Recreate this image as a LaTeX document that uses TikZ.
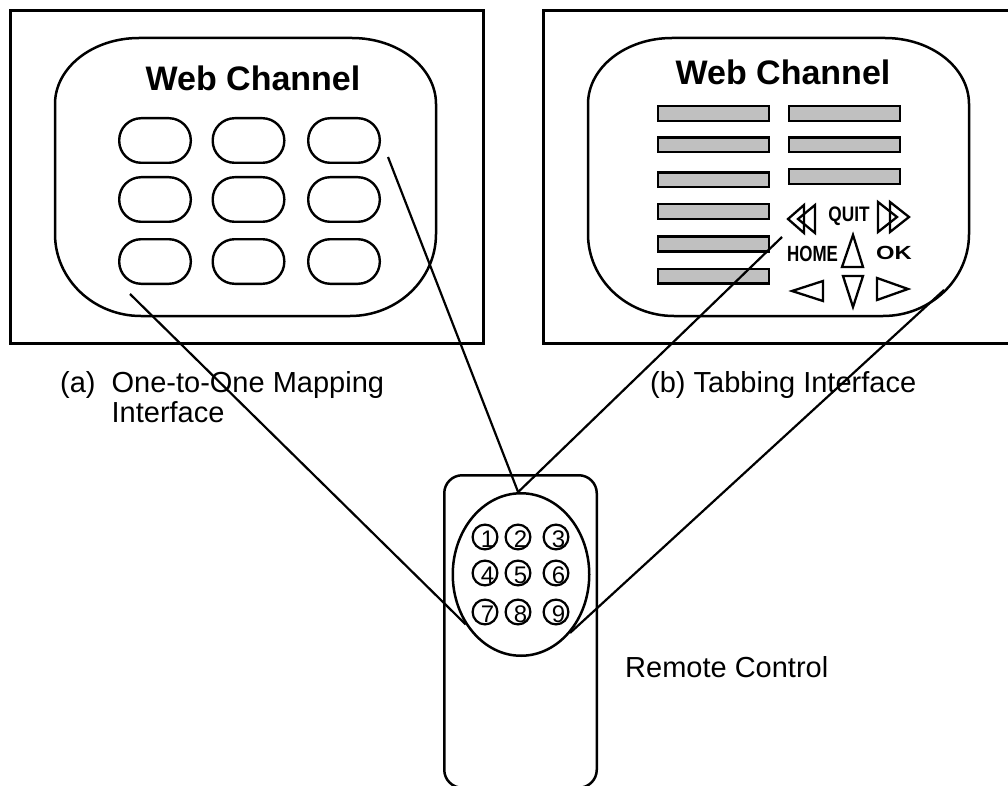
\documentclass[tikz,border=0pt]{standalone}
\usepackage{fontspec}
\setmainfont{Liberation Sans}
\usetikzlibrary{shapes.geometric}
\definecolor{barfill}{HTML}{C0C0C0}

\tikzset{
  pics/tvscreen/.style={code={
    % rounded screen outline with wide elliptical corners
    \draw[screenline] (55,104) .. controls (55,67.6) and (92.6,38) .. (139,38)
      -- (352,38) .. controls (398.4,38) and (436,67.6) .. (436,104)
      -- (436,234) .. controls (436,279.3) and (397.5,316) .. (350,316)
      -- (141,316) .. controls (93.5,316) and (55,279.3) .. (55,234) -- cycle;
  }}
}

\begin{document}
\begin{tikzpicture}[x=1pt,y=-1pt,
  panelframe/.style={draw, line width=2.8pt, inner sep=0pt},
  screenline/.style={line width=2.5pt, line join=round},
  title/.style={font=\fontsize{34}{36}\selectfont\bfseries, inner sep=0pt},
  oval/.style={draw, line width=2.4pt, rectangle, rounded corners=22pt,
    minimum width=71.6pt, minimum height=44.6pt, inner sep=0pt},
  bar/.style={draw, line width=2.4pt, fill=barfill,
    minimum width=110.6pt, minimum height=14.6pt, inner sep=0pt},
  glyph/.style={line width=2.3pt, line join=miter},
  tag/.style={inner sep=0pt, font=\bfseries},
  link/.style={line width=2.2pt},
  remotebody/.style={draw, line width=2.5pt, rectangle, rounded corners=18pt,
    minimum width=152.5pt, minimum height=312.5pt, inner sep=0pt},
  keypadshape/.style={draw, line width=2.5pt, ellipse,
    minimum width=136.5pt, minimum height=162.5pt, inner sep=0pt},
  keyring/.style={draw, circle, line width=2.2pt, minimum size=24.8pt, inner sep=0pt},
  digit/.style={inner sep=0pt, font=\fontsize{24}{24}\selectfont},
  caption/.style={inner sep=0pt, font=\fontsize{29}{30}\selectfont}
]
\clip (0,0) rectangle (1008,786);

% ---------- panel (a): one-to-one mapping ----------
\node[panelframe, minimum width=473.2pt, minimum height=333.2pt] (panelA) at (247,177) {};
\pic at (0,0) {tvscreen};
\node[title, anchor=base] (titleA) at (253,91) {Web Channel};
\foreach \c/\x in {1/155,2/248.5,3/344}{
  \foreach \r/\y in {1/140.5,2/199.5,3/261.5}{
    \node[oval] (o\r\c) at (\x,\y) {};
  }
}

% ---------- panel (b): tabbing ----------
\node[panelframe, minimum width=467.2pt, minimum height=333.2pt] (panelB) at (777,177) {};
\pic at (533,0) {tvscreen};
\node[title, anchor=base] (titleB) at (783,85) {Web Channel};
\foreach \i/\y in {1/113.5,2/145,3/180,4/211.5,5/244,6/276}{
  \node[bar] (barL\i) at (713.5,\y) {};
}
\foreach \i/\y in {1/113.5,2/145,3/176.5}{
  \node[bar] (barR\i) at (844.5,\y) {};
}
% rewind / forward symbols
\draw[glyph] (788,219) -- (804,205) -- (804,233) -- cycle;
\draw[glyph] (798,219) -- (815,205) -- (815,233) -- cycle;
\draw[glyph] (878,202) -- (897,217) -- (878,232) -- cycle;
\draw[glyph] (890,202) -- (909,217) -- (890,232) -- cycle;
% arrow keys
\draw[glyph] (853,235) -- (842,267) -- (863,267) -- cycle;
\draw[glyph] (843,276) -- (863,276) -- (853,307) -- cycle;
\draw[glyph] (792,291) -- (823,281) -- (823,301) -- cycle;
\draw[glyph] (877,278) -- (908,289) -- (877,300) -- cycle;
\node[tag] (quit) at (849,216.5) {\fontsize{21}{21}\selectfont\scalebox{0.82}[1]{QUIT}};
\node[tag] (home) at (812.5,254) {\fontsize{22}{22}\selectfont\scalebox{0.77}[1]{HOME}};
\node[tag] (ok) at (894,253) {\fontsize{19}{19}\selectfont\scalebox{1.25}[1]{OK}};

% ---------- captions ----------
\node[caption, anchor=north west, align=left] (capA) at (60,371)
  {(a)\hspace{16pt}One-to-One Mapping\\\hphantom{(a)}\hspace{16pt}Interface};
\node[caption, anchor=base west] (capB) at (650,392) {(b) Tabbing Interface};

% ---------- remote control ----------
\node[remotebody] (remote) at (520.5,631.5) {};
\node[keypadshape] (keypad) at (521,574.5) {};
\foreach \n/\x/\y in {1/485/537,2/518/537,3/556/537,
                      4/485/573,5/518/573,6/556/573,
                      7/485/612,8/518/612,9/556/612}{
  \node[keyring] (k\n) at (\x,\y) {};
  \node[digit, xshift=2.5pt, yshift=-2pt] (d\n) at (k\n) {\n};
}
\node[caption, anchor=base west] (capR) at (625,677) {Remote Control};

% ---------- connectors from the screens to the keypad ----------
\coordinate (pickA) at (130,294);
\coordinate (pickB) at (388,157);
\coordinate (pickC) at (782,237);
\coordinate (pickD) at (944,290);
\draw[link] (pickA) -- (keypad.222);
\draw[link] (pickB) -- (keypad.92);
\draw[link] (pickC) -- (keypad.92);
\draw[link] (pickD) -- (keypad.310);
\end{tikzpicture}
\end{document}
